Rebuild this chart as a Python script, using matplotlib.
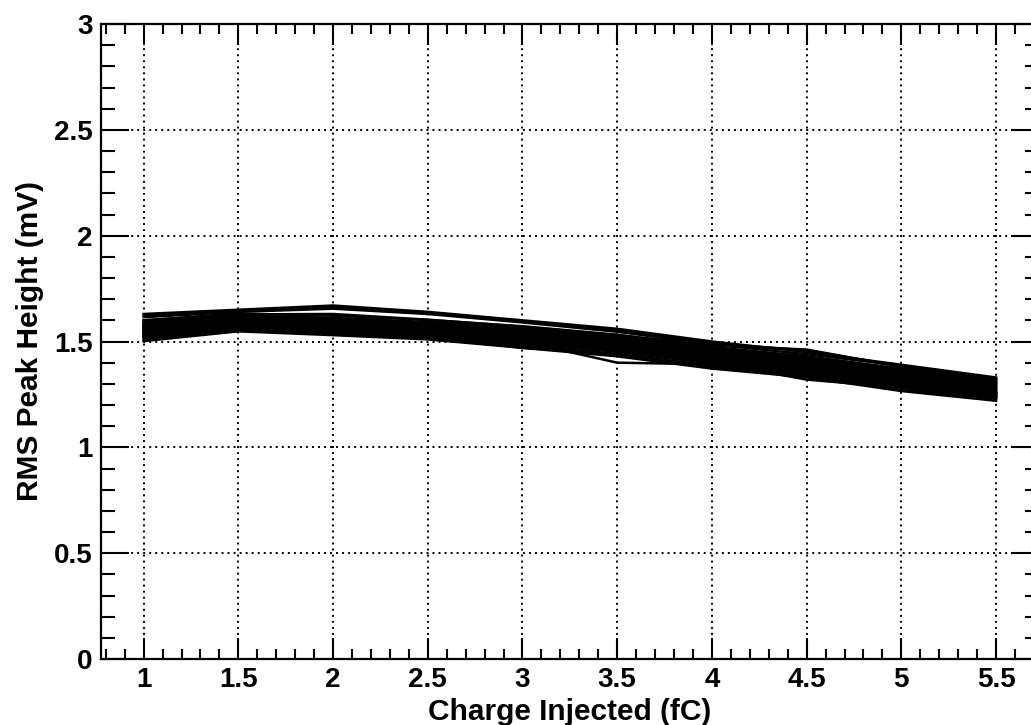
import matplotlib
matplotlib.use("Agg")
import matplotlib.pyplot as plt
from matplotlib.ticker import MultipleLocator

# Injected charge (fC)
charge = [1.0, 1.5, 2.0, 2.5, 3.0, 3.5, 4.0, 4.5, 5.0, 5.5]

# RMS peak height (mV) per channel
ch01 = [1.630, 1.650, 1.670, 1.640, 1.600, 1.560, 1.500, 1.450, 1.390, 1.330]
ch02 = [1.622, 1.645, 1.662, 1.636, 1.596, 1.552, 1.492, 1.458, 1.383, 1.322]
ch03 = [1.615, 1.640, 1.655, 1.630, 1.590, 1.546, 1.486, 1.440, 1.386, 1.326]
ch04 = [1.600, 1.632, 1.622, 1.602, 1.572, 1.532, 1.474, 1.430, 1.372, 1.312]
ch05 = [1.590, 1.622, 1.612, 1.592, 1.563, 1.522, 1.468, 1.421, 1.362, 1.308]
ch06 = [1.584, 1.615, 1.604, 1.586, 1.556, 1.514, 1.461, 1.414, 1.356, 1.301]
ch07 = [1.579, 1.610, 1.600, 1.580, 1.549, 1.510, 1.455, 1.411, 1.350, 1.296]
ch08 = [1.575, 1.606, 1.594, 1.575, 1.545, 1.504, 1.450, 1.404, 1.345, 1.290]
ch09 = [1.569, 1.601, 1.590, 1.569, 1.541, 1.500, 1.444, 1.401, 1.341, 1.286]
ch10 = [1.564, 1.598, 1.585, 1.566, 1.534, 1.496, 1.440, 1.394, 1.334, 1.281]
ch11 = [1.560, 1.594, 1.580, 1.559, 1.530, 1.489, 1.436, 1.390, 1.331, 1.276]
ch12 = [1.555, 1.590, 1.576, 1.556, 1.524, 1.486, 1.430, 1.386, 1.324, 1.270]
ch13 = [1.549, 1.585, 1.570, 1.550, 1.521, 1.480, 1.426, 1.379, 1.321, 1.266]
ch14 = [1.545, 1.580, 1.566, 1.544, 1.515, 1.476, 1.420, 1.376, 1.315, 1.260]
ch15 = [1.540, 1.576, 1.560, 1.541, 1.510, 1.470, 1.416, 1.370, 1.311, 1.256]
ch16 = [1.535, 1.571, 1.556, 1.535, 1.506, 1.465, 1.410, 1.366, 1.305, 1.251]
ch17 = [1.530, 1.566, 1.550, 1.531, 1.500, 1.461, 1.406, 1.360, 1.300, 1.245]
ch18 = [1.525, 1.561, 1.546, 1.525, 1.496, 1.455, 1.400, 1.356, 1.295, 1.241]
ch19 = [1.519, 1.556, 1.540, 1.521, 1.490, 1.451, 1.396, 1.350, 1.290, 1.236]
ch20 = [1.510, 1.551, 1.536, 1.515, 1.481, 1.441, 1.386, 1.341, 1.281, 1.230]
ch21 = [1.502, 1.548, 1.530, 1.510, 1.470, 1.430, 1.372, 1.331, 1.266, 1.220]
ch22 = [1.571, 1.601, 1.580, 1.552, 1.500, 1.400, 1.392, 1.352, 1.302, 1.252]
ch23 = [1.551, 1.592, 1.572, 1.540, 1.502, 1.462, 1.402, 1.320, 1.282, 1.242]
ch24 = [1.600, 1.628, 1.630, 1.603, 1.570, 1.530, 1.482, 1.462, 1.380, 1.321]
ch25 = [1.522, 1.562, 1.541, 1.522, 1.470, 1.440, 1.380, 1.341, 1.270, 1.232]
ch26 = [1.586, 1.612, 1.608, 1.583, 1.553, 1.520, 1.470, 1.425, 1.366, 1.306]
ch27 = [1.543, 1.574, 1.562, 1.538, 1.512, 1.473, 1.418, 1.372, 1.313, 1.258]

channels = [ch01, ch02, ch03, ch04, ch05, ch06, ch07, ch08, ch09, ch10,
            ch11, ch12, ch13, ch14, ch15, ch16, ch17, ch18, ch19, ch20,
            ch21, ch22, ch23, ch24, ch25, ch26, ch27]

x_ticks = [1, 1.5, 2, 2.5, 3, 3.5, 4, 4.5, 5, 5.5]
x_ticklabels = ["1", "1.5", "2", "2.5", "3", "3.5", "4", "4.5", "5", "5.5"]
y_ticks = [0, 0.5, 1, 1.5, 2, 2.5, 3]
y_ticklabels = ["0", "0.5", "1", "1.5", "2", "2.5", "3"]

plt.rcParams["font.family"] = ["Liberation Sans", "DejaVu Sans"]
plt.rcParams["font.weight"] = "bold"

W, H = 1031, 725
fig = plt.figure(figsize=(W / 100, H / 100), dpi=100)
left_px, right_px, top_px, bottom_px = 101, 1038.7, 24, 659
ax = fig.add_axes([left_px / W, 1 - bottom_px / H,
                   (right_px - left_px) / W, (bottom_px - top_px) / H])

for ys in channels:
    ax.plot(charge, ys, color="black", lw=1.8, solid_joinstyle="miter", zorder=3)

ax.set_xlim(0.775, 5.725)
ax.set_ylim(0, 3)

ax.set_xticks(x_ticks)
ax.set_xticklabels(x_ticklabels)
ax.set_yticks(y_ticks)
ax.set_yticklabels(y_ticklabels)
ax.xaxis.set_minor_locator(MultipleLocator(0.1))
ax.yaxis.set_minor_locator(MultipleLocator(0.1))

ax.tick_params(which="both", direction="in", top=True, right=True,
               width=1.5, color="black", labelsize=20)
ax.tick_params(axis="x", which="major", length=15, pad=6)
ax.tick_params(axis="x", which="minor", length=7)
ax.tick_params(axis="y", which="major", length=20, pad=6)
ax.tick_params(axis="y", which="minor", length=10)

for lab in ax.get_xticklabels() + ax.get_yticklabels():
    lab.set_fontweight("bold")

for s in ax.spines.values():
    s.set_linewidth(1.6)

ax.grid(True, which="major", color="black", lw=1.4,
        linestyle=(0, (1, 2.1)), zorder=1)
ax.set_axisbelow(True)

fig.text(570 / W, 1 - 720 / H, "Charge Injected (fC)", ha="center",
         va="baseline", fontsize=21.5, fontweight="bold")
fig.text(38 / W, 1 - 341 / H, "RMS Peak Height (mV)", ha="center",
         va="baseline", rotation=90, fontsize=21.5, fontweight="bold",
         rotation_mode="anchor")

fig.savefig("out.png", dpi=100)
